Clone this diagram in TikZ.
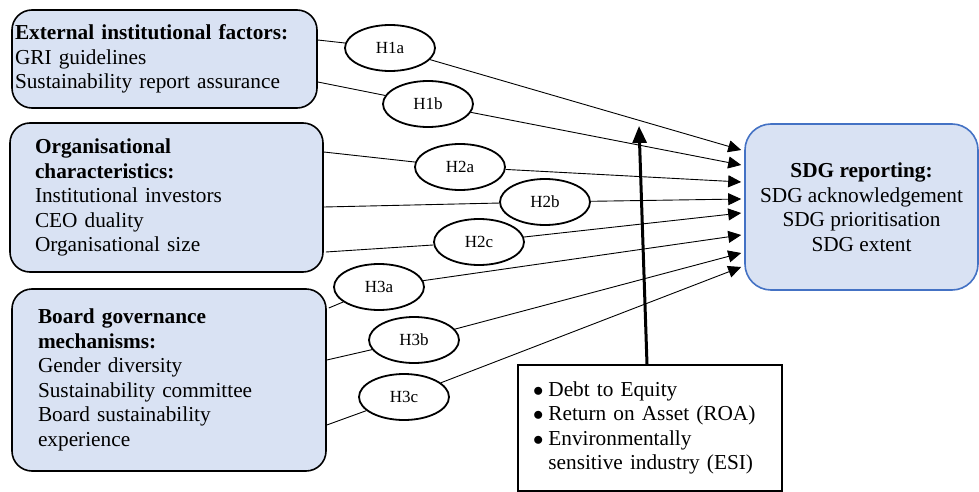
\documentclass[tikz,border=0pt]{standalone}
\usepackage{fontspec}
\setmainfont{Liberation Serif}
\usetikzlibrary{shapes.geometric,arrows.meta}
\definecolor{boxfill}{HTML}{D9E2F3}
\definecolor{sdgline}{HTML}{4472C4}

\begin{document}
\begin{tikzpicture}[x=1pt, y=-1pt,
		factor/.style={draw, line width=1.6pt, fill=boxfill, rounded corners=20pt, align=left,
			font=\fontsize{21.3}{24.5}\selectfont},
		outcome/.style={draw=sdgline, line width=1.6pt, fill=boxfill, rounded corners=26pt, align=center,
			minimum width=233pt, minimum height=166pt, font=\fontsize{21.3}{24.5}\selectfont},
		control/.style={draw, line width=1.4pt, fill=white, align=left, inner xsep=15pt,
			minimum height=126pt, text width=234pt, font=\fontsize{21.3}{24.5}\selectfont},
		hyp/.style={draw, ellipse, line width=1.8pt, fill=white, inner sep=0pt,
			minimum width=90pt, minimum height=46pt, font=\fontsize{17}{18}\selectfont},
		link/.style={line width=0.9pt},
		arr/.style={line width=0.9pt, -{Triangle[length=13pt,width=12pt]}},
		bigarr/.style={line width=3pt, -{Triangle[length=17pt,width=14pt]}}]
		\useasboundingbox (0,0) rectangle (979,492);
		
		\node[factor, inner xsep=3pt, text width=299pt, minimum height=98pt] (ext) at (164.5,59)
			{\textbf{External institutional factors:}\\GRI guidelines\\Sustainability report assurance};
		\node[factor, inner xsep=25pt, text width=263pt, minimum height=149pt] (org) at (166.5,197.5)
			{\textbf{Organisational}\\\textbf{characteristics:}\\Institutional investors\\CEO duality\\Organisational size};
		\node[factor, inner xsep=26pt, text width=262pt, minimum height=182pt] (board) at (169,380)
			{\textbf{Board governance}\\\textbf{mechanisms:}\\Gender diversity\\Sustainability committee\\Board sustainability\\experience};
		
		\node[outcome] (sdg) at (861.5,207)
			{\textbf{SDG reporting:}\\SDG acknowledgement\\SDG prioritisation\\SDG extent};
		
		\node[control] (ctrl) at (650,428)
			{\begin{tabular}{@{}l@{\hspace{5pt}}l@{}}
				$\bullet$ & Debt to Equity\\
				$\bullet$ & Return on Asset (ROA)\\
				$\bullet$ & Environmentally\\
				& sensitive industry (ESI)
			\end{tabular}};
		
		\node[hyp] (h1a) at (390,48) {H1a};
		\node[hyp] (h1b) at (428,104) {H1b};
		\node[hyp] (h2a) at (460,167) {H2a};
		\node[hyp] (h2b) at (545,202) {H2b};
		\node[hyp] (h2c) at (479,242) {H2c};
		\node[hyp] (h3a) at (379,287) {H3a};
		\node[hyp] (h3b) at (414,340) {H3b};
		\node[hyp] (h3c) at (404,397) {H3c};
		
		% factors to hypotheses
		\draw[link] ([yshift=19pt]ext.east) -- (h1a);
		\draw[link] ([yshift=-23pt]ext.east) -- (h1b);
		\draw[link] ([yshift=45.5pt]org.east) -- (h2a);
		\draw[link] ([yshift=-9.5pt]org.east) -- (h2b);
		\draw[link] ([xshift=2pt,yshift=-54.5pt]org.east) -- (h2c);
		\draw[link] ([xshift=2pt,yshift=72pt]board.east) -- (h3a);
		\draw[link] ([yshift=20pt]board.east) -- (h3b);
		\draw[link] ([yshift=-45pt]board.east) -- (h3c);
		
		% hypotheses to SDG reporting
		\foreach \h/\d in {h1a/57, h1b/42, h2a/25, h2b/8, h2c/-6, h3a/-28, h3b/-46, h3c/-60}
			\draw[arr] (\h) -- ([xshift=-3pt,yshift=\d pt]sdg.west);
		
		% controls
		\coordinate (ctrltip) at (639,126);
		\draw[bigarr] ([xshift=-3pt]ctrl.north) -- (ctrltip);
	\end{tikzpicture}
\end{document}
